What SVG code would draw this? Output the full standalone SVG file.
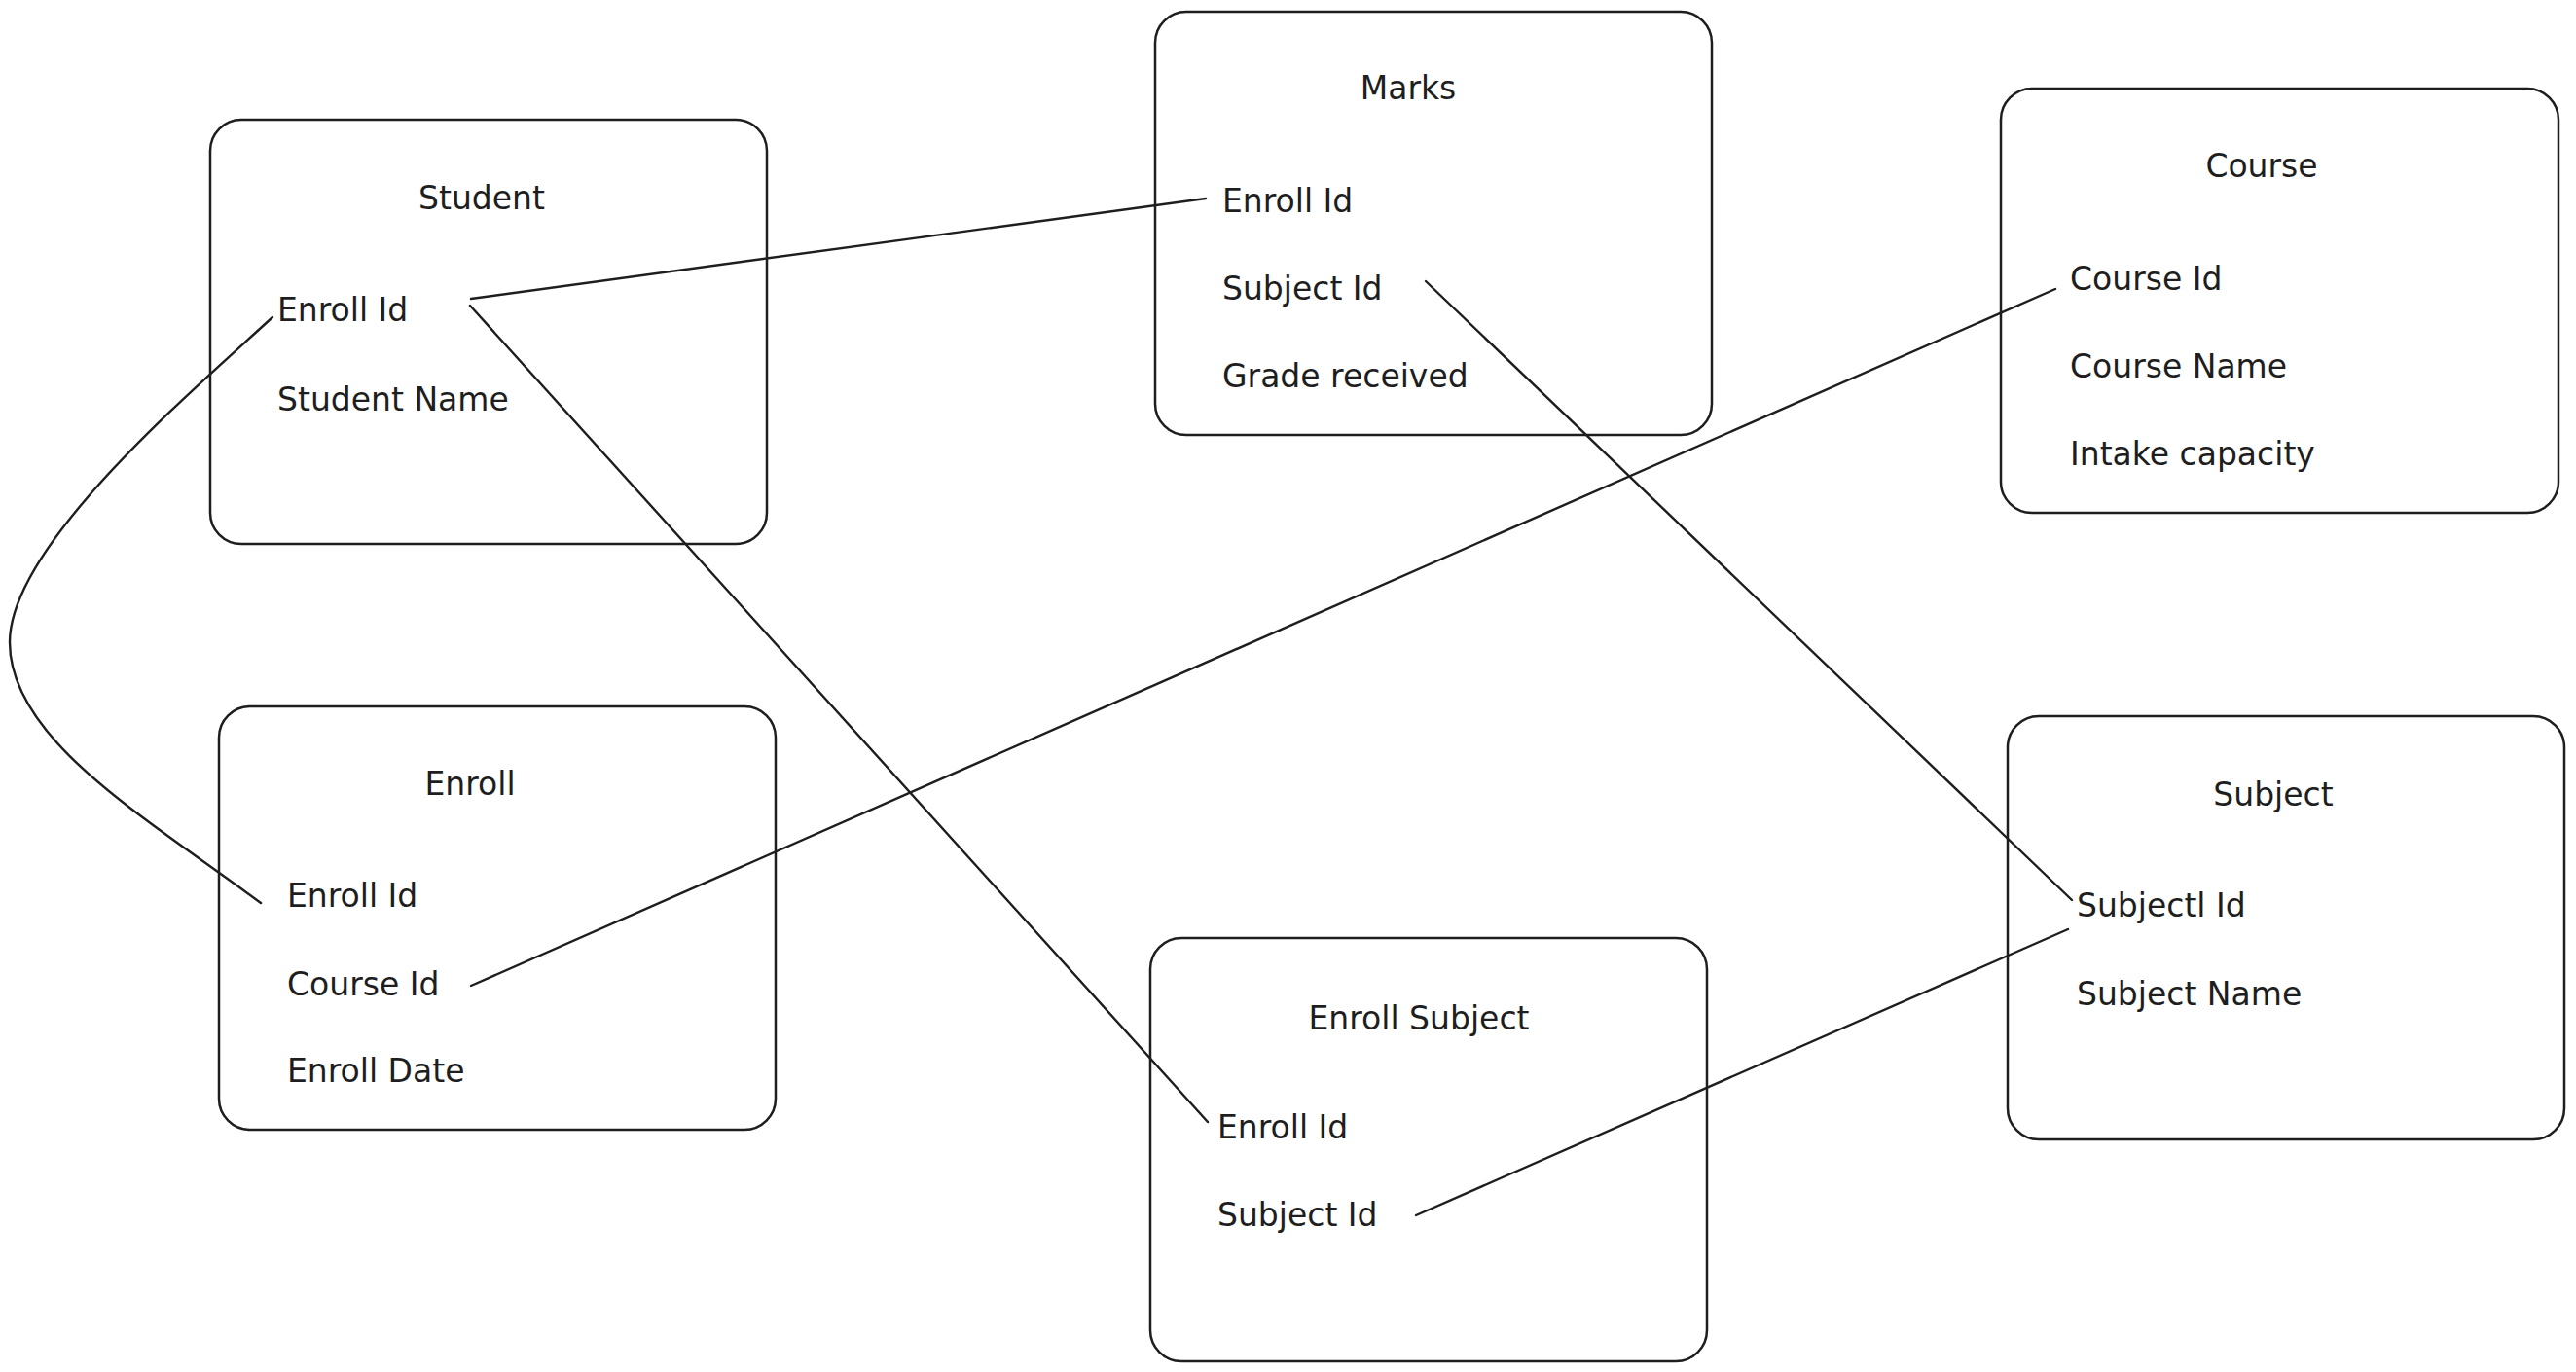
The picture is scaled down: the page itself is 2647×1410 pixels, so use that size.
<svg xmlns="http://www.w3.org/2000/svg" width="2647" height="1410" viewBox="0 0 2647 1410">
<style>
.box{fill:none;stroke:#1e1e1e;stroke-width:2.5}
.t{font-family:"DejaVu Sans","Liberation Sans",sans-serif;font-size:33px;fill:#1e1e1e}
.title{text-anchor:middle}
.conn{fill:none;stroke:#1e1e1e;stroke-width:2.4;stroke-linecap:round}
</style>
<rect width="2647" height="1410" fill="#ffffff"/>
<g id="connectors">
<path class="conn" d="M484 307 L1239 204"/>
<path class="conn" d="M483 314 L1241 1153"/>
<path class="conn" stroke-width="2" d="M280 326 C200 400 10 560 10 660 C10 760 150 840 268 928"/>
<path class="conn" d="M2112 297 L484 1013"/>
<path class="conn" d="M1465 289 L2129 925"/>
<path class="conn" d="M1455 1249 L2125 955"/>
</g>
<g id="student">
<rect class="box" x="216" y="123" width="572" height="436" rx="32"/>
<text class="t title" x="495" y="215">Student</text>
<text class="t" x="285" y="330">Enroll Id</text>
<text class="t" x="285" y="422">Student Name</text>
</g>
<g id="marks">
<rect class="box" x="1187" y="12" width="572" height="435" rx="32"/>
<text class="t title" x="1447" y="102">Marks</text>
<text class="t" x="1256" y="218">Enroll Id</text>
<text class="t" x="1256" y="308">Subject Id</text>
<text class="t" x="1256" y="398">Grade received</text>
</g>
<g id="course">
<rect class="box" x="2056" y="91" width="573" height="436" rx="32"/>
<text class="t title" x="2324" y="182">Course</text>
<text class="t" x="2127" y="298">Course Id</text>
<text class="t" x="2127" y="388">Course Name</text>
<text class="t" x="2127" y="478">Intake capacity</text>
</g>
<g id="enroll">
<rect class="box" x="225" y="726" width="572" height="435" rx="32"/>
<text class="t title" x="483" y="817">Enroll</text>
<text class="t" x="295" y="932">Enroll Id</text>
<text class="t" x="295" y="1023">Course Id</text>
<text class="t" x="295" y="1112">Enroll Date</text>
</g>
<g id="enroll-subject">
<rect class="box" x="1182" y="964" width="572" height="435" rx="32"/>
<text class="t title" x="1458" y="1058">Enroll Subject</text>
<text class="t" x="1251" y="1170">Enroll Id</text>
<text class="t" x="1251" y="1260">Subject Id</text>
</g>
<g id="subject">
<rect class="box" x="2063" y="736" width="572" height="435" rx="32"/>
<text class="t title" x="2336" y="828">Subject</text>
<text class="t" x="2134" y="942">Subjectl Id</text>
<text class="t" x="2134" y="1033">Subject Name</text>
</g>
</svg>
